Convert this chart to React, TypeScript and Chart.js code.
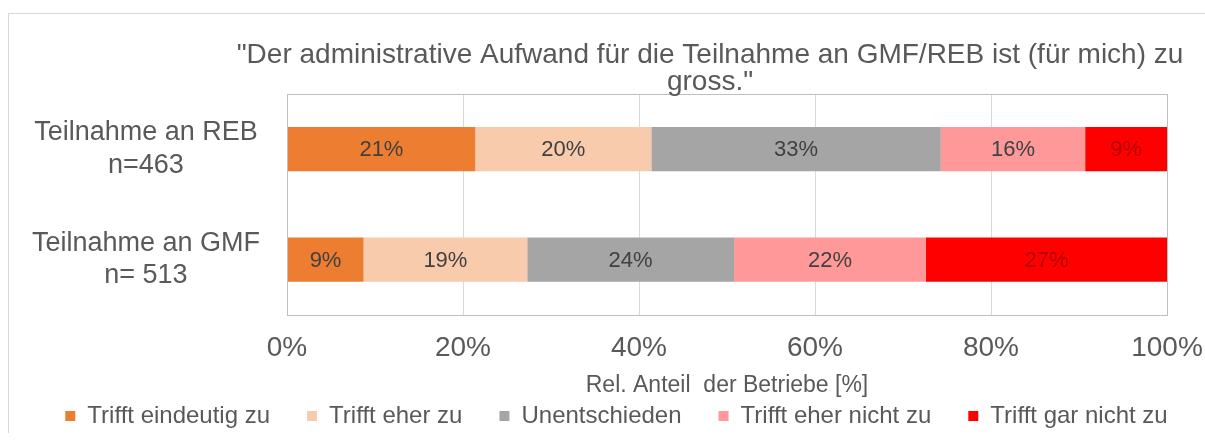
import React, { useEffect, useRef } from "react";
import { Chart, registerables } from "chart.js";

Chart.register(...registerables);

const categories = [["Teilnahme an REB", "n=463"], ["Teilnahme an GMF", "n= 513"]];
const seriesNames = ["Trifft eindeutig zu", "Trifft eher zu", "Unentschieden", "Trifft eher nicht zu", "Trifft gar nicht zu"];
const eindeutigZu = [21.4, 8.7];
const eherZu = [20.0, 18.6];
const unentschieden = [32.9, 23.5];
const eherNichtZu = [16.4, 21.8];
const garNichtZu = [9.3, 27.4];
const xTicks = [0, 20, 40, 60, 80, 100];
const titleLines = ['"Der administrative Aufwand für die Teilnahme an GMF/REB ist (für mich) zu', 'gross."'];
const axisTitle = "Rel. Anteil  der Betriebe [%]";

const seriesValues = [eindeutigZu, eherZu, unentschieden, eherNichtZu, garNichtZu];
const seriesColors = ["#ED7D31", "#F8CBAD", "#A5A5A5", "#FF9999", "#FF0000"];
const labelColors = ["#404040", "#404040", "#404040", "#404040", "#B00000"];
const FONT = "'Liberation Sans', Arial, sans-serif";
const TEXT = "#595959";
const PAD_LEFT = 20;

const framePlugin = {
  id: "frame",
  beforeDraw(chart: any) {
    const { ctx, width } = chart;
    ctx.save();
    ctx.strokeStyle = "#D9D9D9";
    ctx.lineWidth = 1;
    ctx.strokeRect(0.5, 5.5, width + 20, chart.height + 20);
    ctx.restore();
  },
  afterDatasetsDraw(chart: any) {
    const { ctx, chartArea } = chart;
    ctx.save();
    ctx.strokeStyle = "#BFBFBF";
    ctx.lineWidth = 1;
    ctx.strokeRect(Math.round(chartArea.left) + 0.5, Math.round(chartArea.top) + 0.5,
      Math.round(chartArea.right - chartArea.left), Math.round(chartArea.bottom - chartArea.top));
    ctx.font = `22px ${FONT}`;
    ctx.textAlign = "center";
    ctx.textBaseline = "middle";
    chart.data.datasets.forEach((ds: any, di: number) => {
      const meta = chart.getDatasetMeta(di);
      meta.data.forEach((bar: any, i: number) => {
        const v = ds.data[i];
        const cx = (bar.x + bar.base) / 2;
        ctx.fillStyle = labelColors[di];
        ctx.fillText(Math.round(v) + "%", cx, bar.y + 1);
      });
    });
    ctx.fillStyle = TEXT;
    ctx.font = `28px ${FONT}`;
    const cx = (chartArea.left + chartArea.right) / 2 - 17;
    titleLines.forEach((t, i) => ctx.fillText(t, cx, 47 + i * 27));
    ctx.restore();
  },
};

export default function App() {
  const ref = useRef<HTMLCanvasElement | null>(null);
  useEffect(() => {
    document.body.style.margin = "0";
    if (!ref.current) return;
    const chart = new Chart(ref.current, {
      type: "bar",
      data: {
        labels: categories as any,
        datasets: seriesNames.map((name, i) => ({
          label: name,
          data: seriesValues[i],
          backgroundColor: seriesColors[i],
          borderWidth: 0,
          barPercentage: 0.8,
          categoryPercentage: 0.5,
        })),
      },
      options: {
        indexAxis: "y",
        animation: false,
        responsive: false,
        maintainAspectRatio: false,
        layout: { padding: { top: 86, right: 0, bottom: -5, left: PAD_LEFT } },
        plugins: {
          legend: {
            position: "bottom",
            labels: {
              boxWidth: 10,
              boxHeight: 10,
              padding: 37,
              color: TEXT,
              font: { size: 24, family: FONT },
            },
          },
          tooltip: { enabled: false },
          title: { display: false },
        },
        scales: {
          x: {
            stacked: true,
            min: 0,
            max: 100,
            afterBuildTicks(scale: any) {
              scale.ticks = xTicks.map((v) => ({ value: v }));
            },
            afterFit(scale: any) {
              scale.paddingRight = 38;
            },
            ticks: {
              color: TEXT,
              padding: 17,
              maxRotation: 0,
              font: { size: 28, family: FONT },
              callback: (v: any) => v + "%",
            },
            grid: { color: "#D9D9D9", drawTicks: false },
            border: { display: false },
            title: {
              display: true,
              text: axisTitle,
              color: TEXT,
              font: { size: 23, family: FONT },
              padding: { top: -11, bottom: -32 },
            },
          },
          y: {
            stacked: true,
            afterFit(scale: any) {
              scale.width = 279 - PAD_LEFT;
            },
            ticks: {
              color: TEXT,
              padding: 27,
              crossAlign: "center",
              font: { size: 27, family: FONT },
            },
            grid: { display: false, drawTicks: false },
            border: { display: false },
          },
        },
      },
      plugins: [framePlugin],
    } as any);
    return () => chart.destroy();
  }, []);
  return (
    <div style={{ width: 1197, height: 425, padding: "8px 0 0 8px" }}>
      <canvas ref={ref} width={1197} height={425} style={{ display: "block" }} />
    </div>
  );
}
